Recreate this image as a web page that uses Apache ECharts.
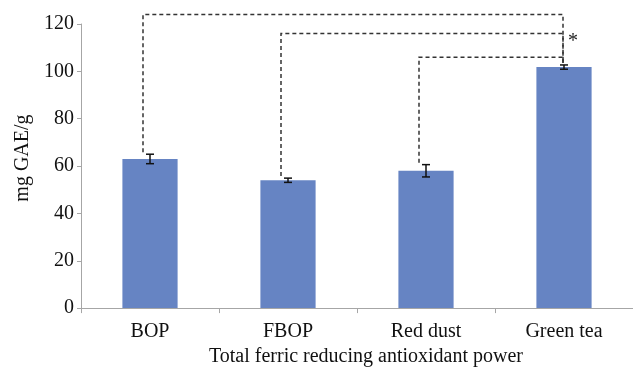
<!DOCTYPE html>
<html>
<head>
<meta charset="utf-8">
<script src="https://cdn.jsdelivr.net/npm/echarts@6/dist/echarts.min.js"></script>
<style>
html,body{margin:0;padding:0;background:#fff;}
#main{width:633px;height:372px;}
</style>
</head>
<body>
<div id="main"></div>
<script>
const categories = ['BOP', 'FBOP', 'Red dust', 'Green tea'];
const values = [63, 54, 58, 101.8];
const errors = [2.0, 0.9, 2.6, 0.9];
const yTicks = { min: 0, max: 120, interval: 20 };
const bracketFrom = [0, 1, 2];
const bracketTo = [3, 3, 3];
const bracketLevels = [124, 116, 106];
const bracketMarks = ['', '*', ''];
const xTitle = 'Total ferric reducing antioxidant power';
const yTitle = 'mg GAE/g';

const FONT = 'Liberation Serif';
const chart = echarts.init(document.getElementById('main'));

const errData = values.map((v, i) => [i, v - errors[i], v + errors[i]]);
const bracketData = bracketFrom.map((f, k) => {
  const t = bracketTo[k];
  return [f, t, bracketLevels[k], values[f] + errors[f], values[t] + errors[t], k];
});

chart.setOption({
  animation: false,
  grid: { left: 81, top: 24, width: 555, bottom: 60, containLabel: false },
  xAxis: {
    type: 'category',
    data: categories,
    axisLine: { lineStyle: { color: '#a6a6a6', width: 1 } },
    axisTick: { show: true, length: 5, lineStyle: { color: '#a6a6a6' } },
    axisLabel: { color: '#111', fontFamily: FONT, fontSize: 20, margin: 14 },
    name: xTitle,
    nameLocation: 'middle',
    nameGap: 38,
    nameTextStyle: { color: '#111', fontFamily: FONT, fontSize: 20, padding: [0, 0, 0, 18] }
  },
  yAxis: {
    type: 'value',
    min: yTicks.min, max: yTicks.max, interval: yTicks.interval,
    splitLine: { show: false },
    axisLine: { show: true, lineStyle: { color: '#a6a6a6', width: 1 } },
    axisTick: { show: true, length: 4, lineStyle: { color: '#a6a6a6' } },
    axisLabel: { color: '#111', fontFamily: FONT, fontSize: 20, margin: 7 },
    name: yTitle,
    nameLocation: 'middle',
    nameGap: 46,
    nameTextStyle: { color: '#111', fontFamily: FONT, fontSize: 20, padding: [0, 0, 0, 16] }
  },
  series: [
    {
      type: 'bar',
      data: values,
      barWidth: '40%',
      itemStyle: { color: '#6684c3' }
    },
    {
      type: 'custom',
      data: errData,
      encode: { x: 0, y: [1, 2] },
      z: 5,
      renderItem: function (params, api) {
        const i = api.value(0);
        const lo = api.coord([i, api.value(1)]);
        const hi = api.coord([i, api.value(2)]);
        const w = 4;
        const st = { stroke: '#111', lineWidth: 1.5 };
        return {
          type: 'group',
          children: [
            { type: 'line', shape: { x1: lo[0], y1: lo[1], x2: hi[0], y2: hi[1] }, style: st },
            { type: 'line', shape: { x1: lo[0] - w, y1: lo[1], x2: lo[0] + w, y2: lo[1] }, style: st },
            { type: 'line', shape: { x1: hi[0] - w, y1: hi[1], x2: hi[0] + w, y2: hi[1] }, style: st }
          ]
        };
      }
    },
    {
      type: 'custom',
      data: bracketData,
      encode: { x: 0, y: 2 },
      clip: false,
      z: 4,
      renderItem: function (params, api) {
        const f = api.value(0), t = api.value(1);
        const lvl = api.value(2);
        const a = api.coord([f, api.value(3)]);
        const b = api.coord([t, api.value(4)]);
        const top = api.coord([f, lvl])[1];
        const fx = a[0] - 7;
        const tx = b[0] - 1;
        const children = [{
          type: 'polyline',
          shape: { points: [[fx, a[1] - 2], [fx, top], [tx, top], [tx, b[1] - 2]] },
          style: { stroke: '#333', lineWidth: 1.5, lineDash: [4, 3], fill: null }
        }];
        const mark = bracketMarks[api.value(5)];
        if (mark) {
          children.push({
            type: 'text',
            style: { text: mark, x: tx + 10, y: top + 8, fill: '#222', font: '20px "Liberation Serif"', align: 'center', verticalAlign: 'middle' }
          });
        }
        return { type: 'group', children: children };
      }
    }
  ]
});
</script>
</body>
</html>
